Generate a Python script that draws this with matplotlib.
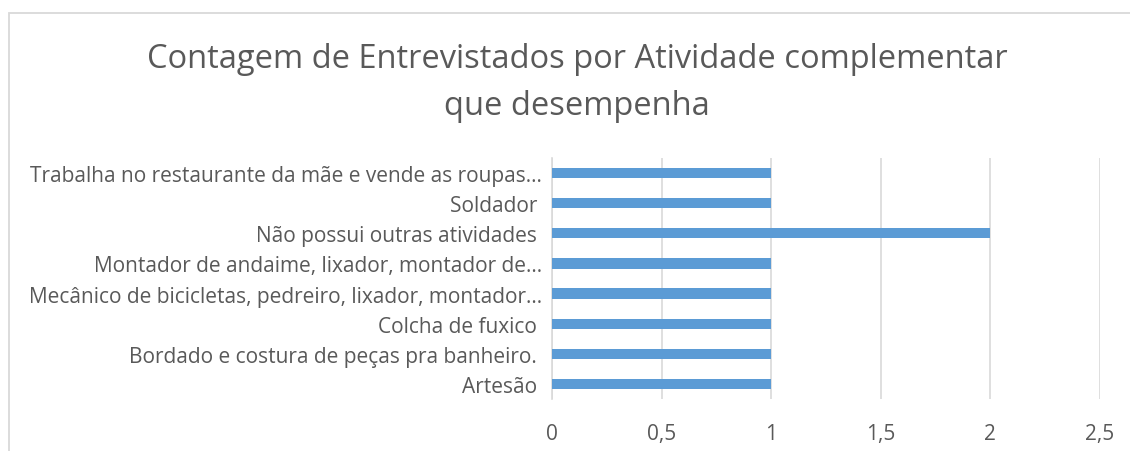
import matplotlib
matplotlib.use("Agg")
import matplotlib.pyplot as plt
from matplotlib.patches import Rectangle

categories = [
    "Artesão ",
    "Bordado e costura de peças pra banheiro. ",
    "Colcha de fuxico ",
    "Mecânico de bicicletas, pedreiro, lixador, montador…",
    "Montador de andaime, lixador, montador de…",
    "Não possui outras atividades ",
    "Soldador ",
    "Trabalha no restaurante da mãe e vende as roupas…",
]
values = [1, 1, 1, 1, 1, 2, 1, 1]
xticks = [0, 0.5, 1, 1.5, 2, 2.5]
xtick_labels = ["0", "0,5", "1", "1,5", "2", "2,5"]
title = "Contagem de Entrevistados por Atividade complementar\nque desempenha"

W, H = 1130, 452
fig = plt.figure(figsize=(W / 100, H / 100), dpi=100)
font = ["Open Sans", "DejaVu Sans"]
txt = "#595959"

# chart border
fig.patches.append(Rectangle((9 / W, -0.1), 1.2, 1 - 14 / H + 0.1, transform=fig.transFigure,
                             fill=False, edgecolor="#d9d9d9", linewidth=1.3))

ax = fig.add_axes([552 / W, 1 - 400 / H, (1100 - 552) / W, (400 - 159) / H])
y = range(len(categories))
ax.barh(list(y), values, height=0.34, color="#5B9BD5", zorder=3)
ax.set_xlim(0, 2.5)
ax.set_ylim(-0.5, len(categories) - 0.5)
ax.set_xticks(xticks)
ax.set_xticklabels(xtick_labels, family=font, fontsize=15, color=txt)
ax.set_yticks(list(y))
ax.set_yticklabels(categories, family=font, fontsize=15, color=txt)
ax.tick_params(axis="both", length=0)
ax.tick_params(axis="x", pad=17)
ax.tick_params(axis="y", pad=7)
ax.grid(axis="x", color="#d9d9d9", linewidth=1.2, zorder=0)
for s in ["top", "right", "bottom"]:
    ax.spines[s].set_visible(False)
ax.spines["left"].set_color("#d9d9d9")
ax.spines["left"].set_linewidth(1.2)

fig.text(577 / W, 1 - 83 / H, title, ha="center", va="center", family=font,
         fontsize=23.5, color=txt, linespacing=1.55)

fig.savefig("out.png", dpi=100)
